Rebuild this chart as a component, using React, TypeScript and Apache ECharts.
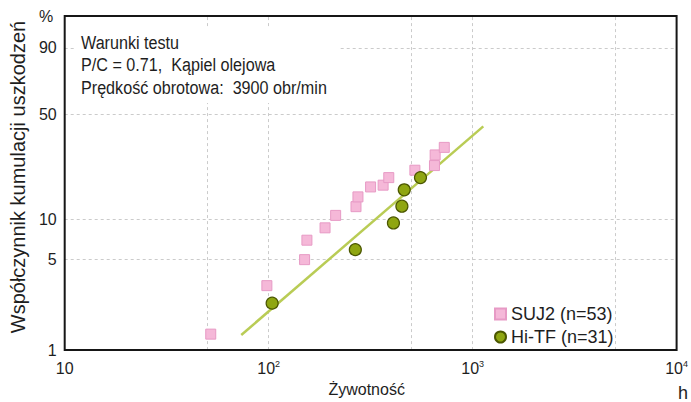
import React, { useEffect, useRef } from "react";
import * as echarts from "echarts";

// Data (hours, cumulative failure %)
const SUJ2_HOURS = [52, 98, 150, 154, 189, 213, 268, 274, 316, 364, 388, 521, 650, 655, 726];
const SUJ2_PCT = [1.33, 3.15, 4.98, 6.99, 8.65, 10.7, 12.4, 14.6, 17.2, 17.7, 20.0, 22.5, 24.2, 28.5, 31.9];
const HITF_HOURS = [104, 266, 409, 450, 462, 555];
const HITF_PCT = [2.31, 5.93, 9.41, 12.5, 16.4, 20.0];
const FIT_HOURS = [73.4, 1128];
const FIT_PCT = [1.31, 42.9];

const Y_TICKS = [1, 5, 10, 50, 90];
const Y_GRID_PCT = [5, 10, 50, 90];
const Y_MIN_PCT = 1;
const Y_MAX_PCT = 98.3;
const X_LABEL_EXP = [1, 2, 3, 4];
const X_GRID_HOURS = [50, 100, 500, 1000, 5000];
const X_MIN_HOURS = 10;
const X_MAX_HOURS = 10000;

const INFO_LINES = [
  "Warunki testu",
  "P/C = 0.71,  Kąpiel olejowa",
  "Prędkość obrotowa:  3900 obr/min",
];
const SERIES_NAMES = ["SUJ2 (n=53)", "Hi-TF (n=31)"];

const FONT = '"Liberation Sans", Arial, Helvetica, sans-serif';

const wt = (p: number) => Math.log(-Math.log(1 - p / 100));
const wtInv = (t: number) => 100 * (1 - Math.exp(-Math.exp(t)));
const lg = (h: number) => Math.log10(h);

const pts = (hs: number[], ps: number[]) => hs.map((h, i) => [lg(h), wt(ps[i])]);

export default function App() {
  const ref = useRef<HTMLDivElement>(null);
  useEffect(() => {
    if (!ref.current) return;
    const chart = echarts.init(ref.current, null, { renderer: "svg" });
    const gridStyle = { color: "#cbcbcb", width: 1, type: [3, 3] as any };
    chart.setOption({
      animation: false,
      backgroundColor: "#ffffff",
      textStyle: { fontFamily: FONT },
      grid: {
        left: 61,
        right: 4,
        top: 16,
        bottom: 43,
        show: true,
        borderColor: "#161616",
        borderWidth: 2,
        backgroundColor: "transparent",
        z: 10,
      },
      legend: {
        orient: "vertical",
        left: 489,
        top: 300,
        itemWidth: 11,
        itemHeight: 11,
        itemGap: 5,
        textStyle: { fontSize: 18, fontFamily: FONT, color: "#1e1e1e" },
        data: [
          { name: SERIES_NAMES[0], icon: "rect" },
          { name: SERIES_NAMES[1], icon: "circle" },
        ],
      },
      xAxis: {
        type: "value",
        min: lg(X_MIN_HOURS),
        max: lg(X_MAX_HOURS),
        name: "Żywotność",
        nameLocation: "middle",
        nameGap: 29,
        nameTextStyle: { fontSize: 16, color: "#1e1e1e", fontFamily: FONT, padding: [0, 8, 0, 0] },
        axisLine: { show: false },
        axisTick: { show: false },
        splitLine: { show: false },
        axisLabel: {
          customValues: X_LABEL_EXP,
          margin: 9,
          color: "#1e1e1e",
          formatter: (v: number) => {
            const e = Math.round(v);
            return e === 1 ? "{b|10}" : `{b|10}{s|${e}}`;
          },
          rich: {
            b: { fontSize: 16, lineHeight: 18, fontFamily: FONT, color: "#1e1e1e" },
            s: { fontSize: 9, lineHeight: 10, verticalAlign: "top", fontFamily: FONT, color: "#1e1e1e" },
          },
        },
      },
      yAxis: {
        type: "value",
        min: wt(Y_MIN_PCT),
        max: wt(Y_MAX_PCT),
        name: "Współczynnik kumulacji uszkodzeń",
        nameLocation: "middle",
        nameRotate: 90,
        nameGap: 30,
        nameTextStyle: { fontSize: 20, color: "#1e1e1e", fontFamily: FONT, padding: [0, 0, 0, 12] },
        axisLine: { show: false },
        axisTick: { show: false },
        splitLine: { show: false },
        axisLabel: {
          customValues: Y_TICKS.map(wt),
          margin: 8,
          fontSize: 16,
          color: "#1e1e1e",
          formatter: (v: number) => String(Math.round(wtInv(v))),
        },
      },
      graphic: [
        { type: "text", left: 39, top: 8, style: { text: "%", fontSize: 16, fontFamily: FONT, fill: "#1e1e1e" } },
        { type: "text", left: 678, top: 384, style: { text: "h", fontSize: 18, fontFamily: FONT, fill: "#1e1e1e" } },
        { type: "rect", shape: { x: 76, y: 27, width: 262, height: 76 }, style: { fill: "#ffffff" }, z: 50 },
        ...INFO_LINES.map((t, i) => ({
          type: "text",
          x: 81,
          y: 33 + i * 22.5,
          scaleX: 0.85,
          z: 51,
          style: { text: t, fontSize: 19, fontFamily: FONT, fill: "#1e1e1e" },
        })),
      ],
      series: [
        {
          type: "line",
          name: "fit",
          data: pts(FIT_HOURS, FIT_PCT),
          showSymbol: false,
          symbol: "none",
          lineStyle: { color: "#b9cc55", width: 2.5 },
          z: 1,
          silent: true,
          markLine: {
            silent: true,
            symbol: "none",
            label: { show: false },
            lineStyle: gridStyle,
            z: 0,
            data: [
              ...X_GRID_HOURS.map((h) => ({ xAxis: lg(h) })),
              ...Y_GRID_PCT.map((p) => ({ yAxis: wt(p) })),
            ],
          },
        },
        {
          type: "scatter",
          name: SERIES_NAMES[0],
          data: pts(SUJ2_HOURS, SUJ2_PCT),
          symbol: "rect",
          symbolSize: [10, 10],
          itemStyle: { color: "#f5b8d8", borderColor: "#e79ac5", borderWidth: 1, opacity: 1 },
          z: 2,
        },
        {
          type: "scatter",
          name: SERIES_NAMES[1],
          data: pts(HITF_HOURS, HITF_PCT),
          symbol: "circle",
          symbolSize: 12,
          itemStyle: { color: "#8fa611", borderColor: "#4b5700", borderWidth: 1.2, opacity: 1 },
          z: 3,
        },
      ],
    });
    return () => chart.dispose();
  }, []);
  return <div ref={ref} style={{ width: 691, height: 402, position: "absolute", left: 0, top: 0 }} />;
}
